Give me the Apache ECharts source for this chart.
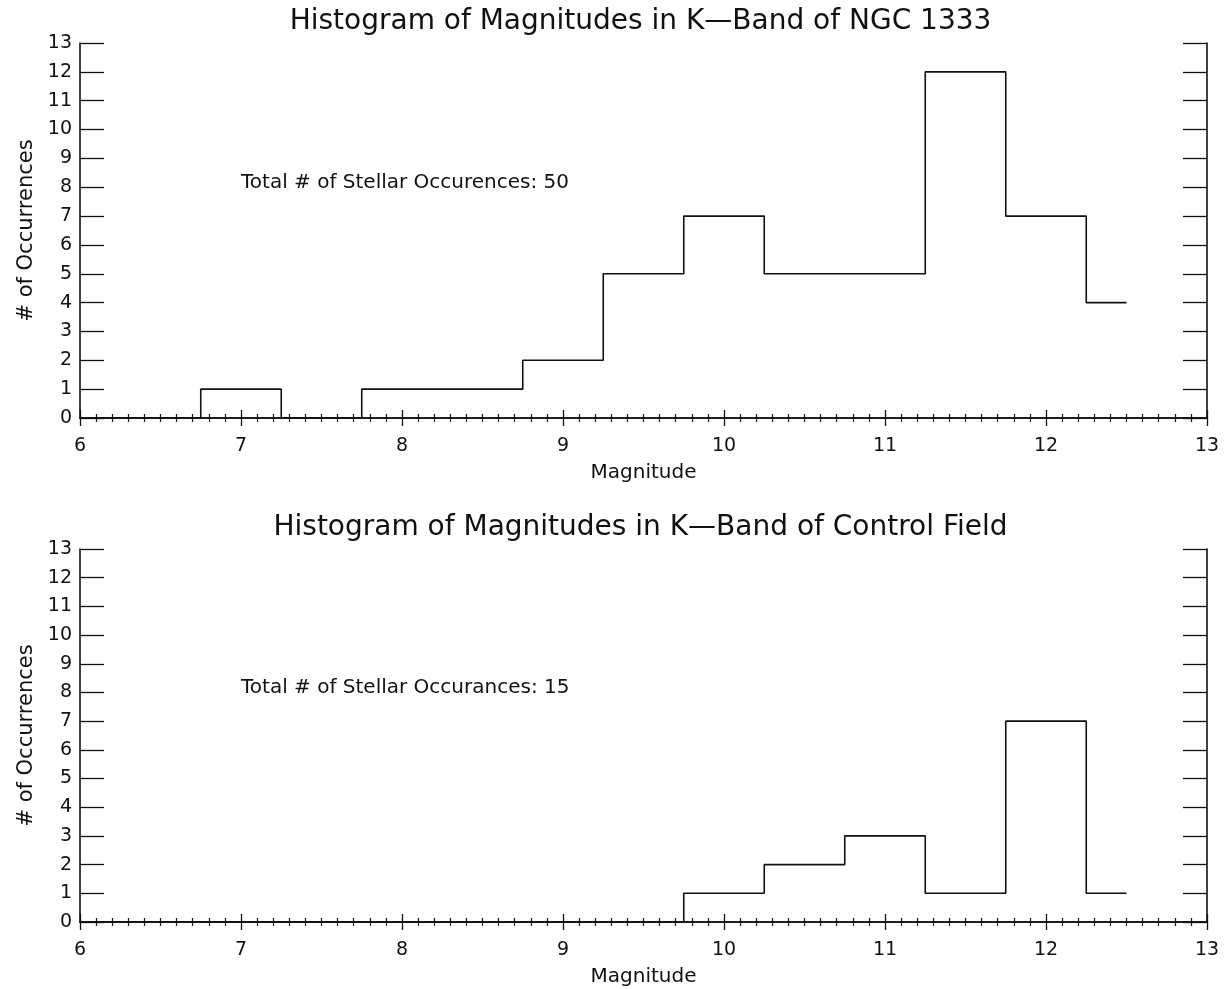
<!DOCTYPE html>
<html>
<head>
<meta charset="utf-8">
<script src="https://cdn.jsdelivr.net/npm/echarts@6/dist/echarts.min.js"></script>
<style>
html,body{margin:0;padding:0;background:#fff;}
#chart{width:1230px;height:989px;}
</style>
</head>
<body>
<div id="chart"></div>
<script>
// Bin centers (magnitude), width 0.5
var magnitudes = [6.0, 6.5, 7.0, 7.5, 8.0, 8.5, 9.0, 9.5, 10.0, 10.5, 11.0, 11.5, 12.0, 12.5];
var countsNGC = [0, 0, 1, 0, 1, 1, 2, 5, 7, 5, 5, 12, 7, 4];
var countsControl = [0, 0, 0, 0, 0, 0, 0, 0, 1, 2, 3, 1, 7, 1];
var titles = ["Histogram of Magnitudes in K\u2014Band of NGC 1333", "Histogram of Magnitudes in K\u2014Band of Control Field"];
var notes = ["Total # of Stellar Occurences: 50", "Total # of Stellar Occurances: 15"];
var xName = "Magnitude";
var yName = "# of Occurrences";

var FONT = "DejaVu Sans";
var INK = "#111";
var grids = [
  {left: 80, top: 43, width: 1127, height: 375},
  {left: 80, top: 549, width: 1127, height: 373}
];

var xAxes = [], yAxes = [], series = [], titleComps = [];
var datasets = [countsNGC, countsControl];
grids.forEach(function (g, i) {
  xAxes.push({
    type: 'value', gridIndex: i, position: 'bottom', min: 6, max: 13, interval: 1,
    name: xName, nameLocation: 'middle', nameGap: 45,
    nameTextStyle: {fontFamily: FONT, fontSize: 20, color: INK},
    axisLine: {lineStyle: {color: INK, width: 1.6}},
    axisTick: {inside: true, length: 8, lineStyle: {color: INK, width: 1.3}},
    minorTick: {show: true, splitNumber: 10, length: 4, lineStyle: {color: INK, width: 1.2}},
    axisLabel: {margin: 19, fontFamily: FONT, fontSize: 19, color: INK},
    splitLine: {show: false}
  });
  xAxes.push({
    type: 'value', gridIndex: i, position: 'top', min: 6, max: 13, interval: 1,
    axisLine: {lineStyle: {color: INK, width: 1.6}},
    axisTick: {inside: true, length: 8, lineStyle: {color: INK, width: 1.3}},
    minorTick: {show: true, splitNumber: 10, length: 4, lineStyle: {color: INK, width: 1.2}},
    axisLabel: {show: false},
    splitLine: {show: false}
  });
  yAxes.push({
    type: 'value', gridIndex: i, position: 'left', min: 0, max: 13, interval: 1,
    name: yName, nameLocation: 'middle', nameGap: 40, nameRotate: 90,
    nameTextStyle: {fontFamily: FONT, fontSize: 21, color: INK},
    axisLine: {show: true, lineStyle: {color: INK, width: 1.6}},
    axisTick: {show: true, inside: true, length: 24, lineStyle: {color: INK, width: 1.3}},
    axisLabel: {margin: 8, fontFamily: FONT, fontSize: 19, color: INK},
    splitLine: {show: false}
  });
  yAxes.push({
    type: 'value', gridIndex: i, position: 'right', min: 0, max: 13, interval: 1,
    axisLine: {show: true, lineStyle: {color: INK, width: 1.6}},
    axisTick: {show: true, inside: true, length: 24, lineStyle: {color: INK, width: 1.3}},
    axisLabel: {show: false},
    splitLine: {show: false}
  });
  series.push({
    type: 'line', step: 'middle', xAxisIndex: i * 2, yAxisIndex: i * 2,
    data: magnitudes.map(function (m, k) { return [m, datasets[i][k]]; }),
    symbol: 'none', lineStyle: {color: INK, width: 1.6}, silent: true,
    markPoint: {
      symbol: 'circle', symbolSize: 0,
      label: {show: true, position: 'right', distance: 0, formatter: notes[i],
        fontFamily: FONT, fontSize: 20, color: INK},
      data: [{coord: [7.0, 8.15]}]
    }
  });
  titleComps.push({
    text: titles[i], left: g.left + g.width / 2 - 8, textAlign: 'center', top: g.top - 40,
    textStyle: {fontFamily: FONT, fontSize: 28, fontWeight: 'normal', color: INK}
  });
});

var chart = echarts.init(document.getElementById('chart'), null, {renderer: 'canvas'});
chart.setOption({
  animation: false,
  backgroundColor: '#fff',
  title: titleComps,
  grid: grids,
  xAxis: xAxes,
  yAxis: yAxes,
  series: series
});
</script>
</body>
</html>
